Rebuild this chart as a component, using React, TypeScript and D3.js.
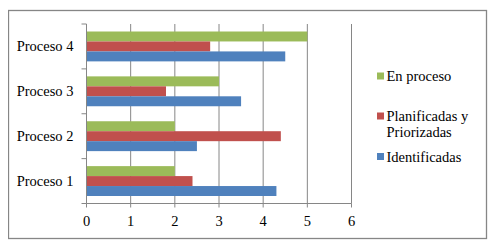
import React from "react";
import * as d3 from "d3";

const categories = ["Proceso 4", "Proceso 3", "Proceso 2", "Proceso 1"];
const seriesNames = ["En proceso", "Planificadas y Priorizadas", "Identificadas"];
const enProceso = [5, 3, 2, 2];
const planificadas = [2.8, 1.8, 4.4, 2.4];
const identificadas = [4.5, 3.5, 2.5, 4.3];
const xTicks = [0, 1, 2, 3, 4, 5, 6];
const colors = ["#9BBB59", "#C0504D", "#4F81BD"];

const FS = 14.5;

export default function App() {
  const W = 496, H = 246;
  const left = 86.5, right = 351.5, top = 24, bottom = 203.5;
  const x = d3.scaleLinear().domain([0, 6]).range([left, right]);
  const y = d3.scaleBand<string>().domain(categories).range([top, bottom]).padding(0);
  const inner = d3.scaleBand<string>().domain(seriesNames).range([7.5, y.bandwidth() - 7.5]).padding(0);
  const values = [enProceso, planificadas, identificadas];
  const boundaries = [...categories.map((c) => y(c) as number), bottom];
  const legendItems = [
    { lines: ["En proceso"], y: 76, color: colors[0] },
    { lines: ["Planificadas y", "Priorizadas"], y: 116, color: colors[1] },
    { lines: ["Identificadas"], y: 156.5, color: colors[2] },
  ];
  const ts = { fontFamily: `"Liberation Serif"`, fontSize: FS };
  const labels: { x: number; y: number; anchor: string; text: string }[] = [];
  xTicks.forEach((t) => labels.push({ x: x(t), y: 226, anchor: "middle", text: String(t) }));
  categories.forEach((c) =>
    labels.push({ x: 73.5, y: (y(c) as number) + y.bandwidth() / 2 + 5, anchor: "end", text: c })
  );
  legendItems.forEach((it) =>
    it.lines.forEach((ln, li) => labels.push({ x: 386.5, y: it.y + 5 + li * 15.6, anchor: "start", text: ln }))
  );
  return (
    <svg width={W} height={H} style={{ display: "block", margin: "-8px 0 0 -8px" }}>
      <rect x={8.5} y={10.5} width={478} height={228} fill="#fff" stroke="#868686" strokeWidth={1.3} />
      {xTicks.slice(1).map((t) => (
        <line key={"g" + t} x1={x(t)} x2={x(t)} y1={top} y2={bottom} stroke="#868686" strokeWidth={1} />
      ))}
      {categories.map((c, ci) =>
        values.map((vals, si) => (
          <rect
            key={c + si}
            x={x(0)}
            y={(y(c) as number) + (inner(seriesNames[si]) as number)}
            width={x(vals[ci]) - x(0)}
            height={inner.bandwidth()}
            fill={colors[si]}
          />
        ))
      )}
      <line x1={left} x2={left} y1={top} y2={bottom} stroke="#868686" strokeWidth={1} />
      <line x1={left} x2={right} y1={bottom} y2={bottom} stroke="#868686" strokeWidth={1} />
      {boundaries.map((b, i) => (
        <line key={"yt" + i} x1={left - 5} x2={left} y1={b} y2={b} stroke="#868686" strokeWidth={1} />
      ))}
      {xTicks.map((t) => (
        <line key={"xt" + t} x1={x(t)} x2={x(t)} y1={bottom} y2={bottom + 4} stroke="#868686" strokeWidth={1} />
      ))}
      {legendItems.map((it, i) => (
        <rect key={"lg" + i} x={377} y={it.y - 3.5} width={7} height={7} fill={it.color} />
      ))}
      {labels.map((l, i) => (
        <text key={"t" + i} x={l.x} y={l.y} textAnchor={l.anchor} style={ts}>
          {l.text}
        </text>
      ))}
    </svg>
  );
}
